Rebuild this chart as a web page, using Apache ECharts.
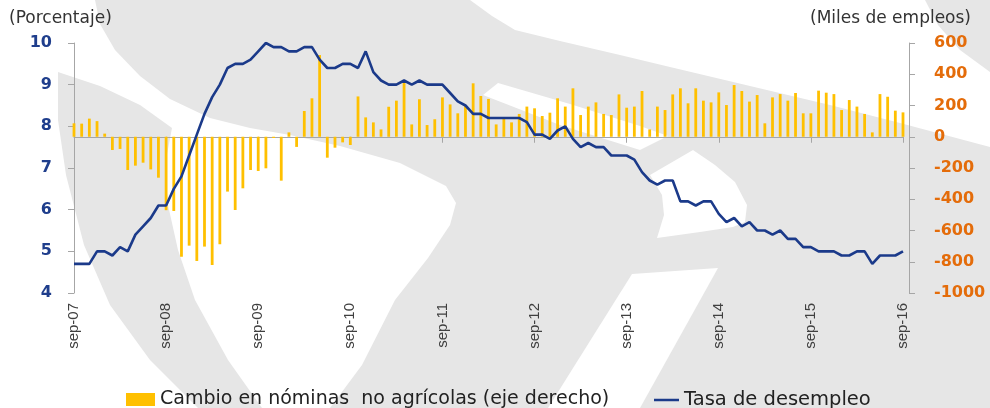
<!DOCTYPE html>
<html>
<head>
<meta charset="utf-8">
<script src="https://cdn.jsdelivr.net/npm/echarts@6/dist/echarts.min.js"></script>
<style>
  html, body { margin: 0; padding: 0; background: #fff; }
  #chart { width: 990px; height: 408px; }
</style>
</head>
<body>
<div id="chart"></div>
<script>
// meses en español, de sep-07 a sep-16
const meses = ["ene", "feb", "mar", "abr", "may", "jun", "jul", "ago", "sep", "oct", "nov", "dic"];
const fechas = [];
for (let i = 0; i < 109; i++) {
  const m = (8 + i) % 12;
  const a = 7 + Math.floor((8 + i) / 12);
  fechas.push(meses[m] + "-" + String(a).padStart(2, "0"));
}

// tasa de desempleo (%)
const desempleo = [
  4.7, 4.7, 4.7, 5.0,
  5.0, 4.9, 5.1, 5.0, 5.4, 5.6, 5.8, 6.1, 6.1, 6.5, 6.8, 7.3,
  7.8, 8.3, 8.7, 9.0, 9.4, 9.5, 9.5, 9.6, 9.8, 10.0, 9.9, 9.9,
  9.8, 9.8, 9.9, 9.9, 9.6, 9.4, 9.4, 9.5, 9.5, 9.4, 9.8, 9.3,
  9.1, 9.0, 9.0, 9.1, 9.0, 9.1, 9.0, 9.0, 9.0, 8.8, 8.6, 8.5,
  8.3, 8.3, 8.2, 8.2, 8.2, 8.2, 8.2, 8.1, 7.8, 7.8, 7.7, 7.9,
  8.0, 7.7, 7.5, 7.6, 7.5, 7.5, 7.3, 7.3, 7.3, 7.2, 6.9, 6.7,
  6.6, 6.7, 6.7, 6.2, 6.2, 6.1, 6.2, 6.2, 5.9, 5.7, 5.8, 5.6,
  5.7, 5.5, 5.5, 5.4, 5.5, 5.3, 5.3, 5.1, 5.1, 5.0, 5.0, 5.0,
  4.9, 4.9, 5.0, 5.0, 4.7, 4.9, 4.9, 4.9, 5.0
];

// cambio en nóminas no agrícolas (miles de empleos)
const nominas = [
  86, 84, 116, 100,
  20, -85, -78, -213, -185, -166, -209, -262, -470, -475, -768, -697,
  -795, -703, -821, -688, -351, -469, -330, -213, -219, -202, -8, -281,
  28, -65, 165, 246, 523, -134, -70, -36, -53, 258, 124, 92,
  47, 192, 231, 352, 79, 240, 75, 112, 252, 207, 150, 197,
  342, 261, 242, 79, 114, 92, 146, 193, 182, 133, 154, 246,
  193, 310, 139, 193, 220, 146, 139, 271, 186, 193, 293, 47,
  193, 171, 271, 310, 214, 310, 231, 220, 284, 203, 331, 293,
  225, 267, 86, 252, 273, 231, 280, 150, 150, 295, 282, 273,
  171, 235, 193, 146, 28, 273, 256, 167, 156
];

const nombreBarras = "Cambio en nóminas  no agrícolas (eje derecho)";
const nombreLinea = "Tasa de desempleo";

const gris = "#E6E6E6";
const fuente = "DejaVu Sans";

// marca de agua del fondo (aproximada)
const fondo = [
  { type: "polygon", z: -10, silent: true, style: { fill: gris },
    shape: { points: [[58, 72], [100, 86], [140, 105], [172, 128], [165, 165], [168, 205], [178, 250],
      [195, 300], [228, 360], [262, 408], [198, 408], [150, 360], [110, 305], [84, 245], [66, 175], [58, 120]] } },
  { type: "polygon", z: -10, silent: true, style: { fill: gris },
    shape: { points: [[95, 0], [470, 0], [492, 16], [515, 30], [560, 41], [620, 55], [670, 67], [750, 86],
      [830, 105], [900, 123], [990, 147], [990, 408], [330, 408], [362, 365], [395, 300], [428, 258],
      [450, 225], [456, 203], [446, 186], [400, 163], [340, 146], [290, 135], [250, 128], [210, 118],
      [170, 99], [140, 76], [115, 50], [100, 24]] } },
  { type: "polygon", z: -10, silent: true, style: { fill: gris },
    shape: { points: [[925, 0], [990, 0], [990, 72], [960, 50], [938, 25]] } },
  { type: "polygon", z: -9, silent: true, style: { fill: "#fff" },
    shape: { points: [[483, 95], [498, 83], [570, 104], [640, 126], [668, 136], [640, 150], [560, 125]] } },
  { type: "polygon", z: -9, silent: true, style: { fill: "#fff" },
    shape: { points: [[693, 150], [715, 165], [735, 182], [747, 205], [745, 222], [733, 227], [700, 232],
      [657, 238], [664, 215], [662, 195], [650, 175]] } },
  { type: "polygon", z: -9, silent: true, style: { fill: "#fff" },
    shape: { points: [[632, 274], [718, 268], [640, 408], [548, 408]] } }
];

const chart = echarts.init(document.getElementById("chart"));

const option = {
  animation: false,
  backgroundColor: "#fff",
  graphic: fondo.concat([
    { type: "text", left: 9, top: 10, z: 10,
      style: { text: "(Porcentaje)", fill: "#333", font: "17px '" + fuente + "'" } },
    { type: "text", left: 810, top: 10, z: 10,
      style: { text: "(Miles de empleos)", fill: "#333", font: "17px '" + fuente + "'" } }
  ]),
  grid: { left: 74, right: 87, top: 43, bottom: 115 },
  legend: [
    {
      data: [{ name: nombreBarras, icon: "rect" }],
      left: 121, top: 385,
      itemWidth: 29, itemHeight: 13, itemGap: 6,
      textStyle: { fontFamily: fuente, fontSize: 19, color: "#222" }
    },
    {
      data: [{ name: nombreLinea, icon: "rect" }],
      left: 649, top: 385,
      itemWidth: 25, itemHeight: 2.5,
      textStyle: { fontFamily: fuente, fontSize: 19.5, color: "#222" }
    }
  ],
  xAxis: {
    type: "category",
    data: fechas,
    boundaryGap: false,
    axisLine: { lineStyle: { color: "#A6A6A6" } },
    axisTick: { interval: 11, length: 6, lineStyle: { color: "#A6A6A6" } },
    axisLabel: {
      interval: 11, rotate: 90, margin: 10,
      fontFamily: "Liberation Sans", fontSize: 15, color: "#404040"
    },
    splitLine: { show: false }
  },
  yAxis: [
    {
      type: "value", min: 4, max: 10, interval: 1,
      axisLine: { show: true, lineStyle: { color: "#A6A6A6" } },
      axisTick: { show: true, length: 6, lineStyle: { color: "#A6A6A6" } },
      axisLabel: { margin: 22, fontFamily: fuente, fontWeight: "bold", fontSize: 16, color: "#1F3E8C" },
      splitLine: { show: false }
    },
    {
      type: "value", min: -1000, max: 600, interval: 200,
      position: "right", offset: 6,
      axisLine: { show: true, lineStyle: { color: "#A6A6A6" } },
      axisTick: { show: true, length: 6, lineStyle: { color: "#A6A6A6" } },
      axisLabel: {
        margin: 25, fontFamily: fuente, fontWeight: "bold", fontSize: 16, color: "#E46C0A",
        formatter: v => String(v)
      },
      splitLine: { show: false }
    }
  ],
  series: [
    {
      name: nombreBarras,
      type: "bar",
      yAxisIndex: 1,
      barWidth: 2.8,
      itemStyle: { color: "#FFC000" },
      data: nominas
    },
    {
      name: nombreLinea,
      type: "line",
      yAxisIndex: 0,
      symbol: "none",
      lineStyle: { color: "#1B3A8A", width: 2.6 },
      itemStyle: { color: "#1B3A8A" },
      data: desempleo,
      z: 5
    }
  ]
};

chart.setOption(option);
</script>
</body>
</html>
